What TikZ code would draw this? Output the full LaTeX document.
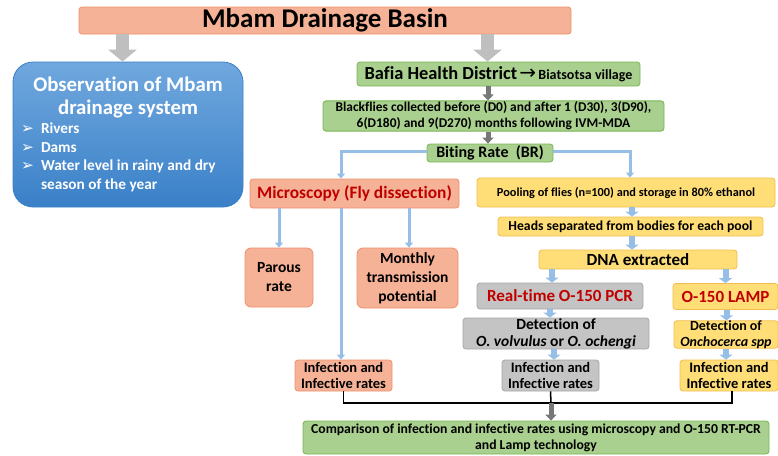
\documentclass[tikz,border=0pt]{standalone}
\usepackage{fontspec}
\setmainfont{Carlito}[Ligatures=NoCommon]
\newfontfamily\dingfont{DejaVu Sans}
\usetikzlibrary{positioning,arrows.meta,calc}
\definecolor{salmonfill}{RGB}{246,178,150}
\definecolor{salmonline}{RGB}{236,145,108}
\definecolor{greenfill}{RGB}{169,208,142}
\definecolor{greenline}{RGB}{120,180,85}
\definecolor{yellowfill}{RGB}{255,222,120}
\definecolor{yellowline}{RGB}{240,190,80}
\definecolor{grayfill}{RGB}{196,196,196}
\definecolor{grayline}{RGB}{165,165,165}
\definecolor{bluetop}{RGB}{112,168,222}
\definecolor{bluebottom}{RGB}{58,128,200}
\definecolor{flowblue}{RGB}{150,190,230}
\definecolor{textred}{RGB}{192,0,0}
\definecolor{bigarrowgray}{RGB}{191,191,191}
\definecolor{darkarrowgray}{RGB}{120,120,120}

\begin{document}
\begin{tikzpicture}[x=1pt, y=-1pt,
    box/.style={rectangle, rounded corners=3pt, draw, line width=0.8pt, align=center, inner sep=1pt},
    salmon/.style={fill=salmonfill, draw=salmonline},
    green/.style={fill=greenfill, draw=greenline},
    yellow/.style={fill=yellowfill, draw=yellowline},
    grey/.style={fill=grayfill, draw=grayline},
    bigarrow/.style={line width=13pt, draw=bigarrowgray, -{Triangle[width=28pt,length=12pt]}},
    darkarrow/.style={line width=5pt, draw=darkarrowgray, -{Triangle[width=11pt,length=6pt]}},
    blueline/.style={line width=3pt, draw=flowblue, -{Triangle[width=8pt,length=5pt]}},
    bluestep/.style={line width=6pt, draw=flowblue, -{Triangle[width=13pt,length=5pt]}},
    joinline/.style={line width=1.5pt, draw=black}
  ]
  \useasboundingbox (0,0) rectangle (778,455);

  % top
  \node[box, salmon, minimum width=492pt, minimum height=27pt,
        font=\bfseries\fontsize{27}{30}\selectfont] (title) at (325,20.5) {Mbam Drainage Basin};

  \node[rectangle, rounded corners=20pt, draw=bluebottom, line width=0.8pt,
        top color=bluetop, bottom color=bluebottom, text=white,
        minimum width=230pt, minimum height=145pt, inner sep=0pt] (obs) at (128,134.5)
    {\parbox{214pt}{\centering\bfseries\fontsize{20.8}{23}\selectfont Observation of Mbam\\ drainage system\par
      \raggedright\fontsize{15.3}{18.7}\selectfont
      \makebox[20pt][l]{\dingfont\mdseries ➢}Rivers\\
      \makebox[20pt][l]{\dingfont\mdseries ➢}Dams\\
      \makebox[20pt][l]{\dingfont\mdseries ➢}Water level in rainy and dry\\
      \hspace*{20pt}season of the year}};

  \node[box, green, minimum width=283pt, minimum height=24pt] (bafia) at (498.5,74)
    {\bfseries{\fontsize{18.4}{21}\selectfont Bafia Health District}
     {\dingfont\mdseries\fontsize{20}{20}\selectfont →} {\fontsize{14}{16}\selectfont Biatsotsa village}};
  \node[box, green, minimum width=341pt, minimum height=30pt,
        font=\bfseries\fontsize{13.4}{16}\selectfont] (black) at (493.5,116)
    {Blackflies collected before (D0) and after 1 (D30), 3(D90),\\ 6(D180) and 9(D270) months following IVM-MDA};
  \node[box, green, minimum width=126pt, minimum height=18pt,
        font=\bfseries\fontsize{16}{18}\selectfont] (br) at (490,153) {Biting Rate\ \ (BR)};

  % microscopy branch
  \node[box, salmon, minimum width=209pt, minimum height=29pt, text=textred,
        font=\bfseries\fontsize{17.4}{20}\selectfont] (micro) at (354.5,193.5) {Microscopy (Fly dissection)};
  \node[box, salmon, rounded corners=6pt, minimum width=68pt, minimum height=59pt,
        font=\bfseries\fontsize{15.5}{19}\selectfont] (parous) at (279,277.5) {Parous\\ rate};
  \node[box, salmon, rounded corners=6pt, minimum width=101pt, minimum height=60pt,
        font=\bfseries\fontsize{15.5}{19}\selectfont] (monthly) at (407.5,278) {Monthly\\ transmission\\ potential};
  \node[box, salmon, minimum width=97pt, minimum height=31pt,
        font=\bfseries\fontsize{14.5}{16.5}\selectfont] (infL) at (343.5,375.5) {Infection and\\ Infective rates};

  % molecular branch
  \node[box, yellow, minimum width=298pt, minimum height=29pt,
        font=\bfseries\fontsize{12.3}{15}\selectfont] (pool) at (626,192.5) {Pooling of flies (n=100) and storage in 80\% ethanol};
  \node[box, yellow, minimum width=265pt, minimum height=19pt,
        font=\bfseries\fontsize{13.7}{15}\selectfont] (heads) at (630.5,226.5) {Heads separated from bodies for each pool};
  \node[box, yellow, minimum width=198pt, minimum height=19pt,
        font=\bfseries\fontsize{17}{18}\selectfont] (dna) at (638,259.5) {DNA extracted};
  \node[box, grey, minimum width=166pt, minimum height=26pt, text=textred,
        font=\bfseries\fontsize{17}{19}\selectfont] (pcr) at (560,296) {Real-time O-150 PCR};
  \node[box, yellow, minimum width=105pt, minimum height=26pt, text=textred,
        font=\bfseries\fontsize{17}{19}\selectfont] (lamp) at (725.5,296.5) {O-150 LAMP};
  \node[box, grey, minimum width=186pt, minimum height=31pt, inner sep=0pt,
        font=\bfseries\fontsize{15.5}{17}\selectfont] (detG) at (556,333.5) {Detection of\\ \textit{O. volvulus} or \textit{O. ochengi}};
  \node[box, yellow, minimum width=104pt, minimum height=25pt, inner sep=0pt,
        font=\bfseries\fontsize{14}{15.5}\selectfont] (detY) at (726,334.5) {Detection of\\ \textit{Onchocerca spp}};
  \node[box, grey, minimum width=97pt, minimum height=31pt,
        font=\bfseries\fontsize{14.5}{16.5}\selectfont] (infG) at (550.5,375.5) {Infection and\\ Infective rates};
  \node[box, yellow, minimum width=98pt, minimum height=31pt,
        font=\bfseries\fontsize{14.5}{16.5}\selectfont] (infY) at (729,375.5) {Infection and\\ Infective rates};

  \node[box, green, minimum width=466pt, minimum height=33pt,
        font=\bfseries\fontsize{13.7}{16}\selectfont] (comp) at (536,437.5)
    {Comparison of infection and infective rates using microscopy and O-150 RT-PCR\\ and Lamp technology};

  \coordinate (join) at (551,403);

  % connectors
  \draw[bigarrow] ([xshift=-5.5pt]obs.north |- title.south) -- ([xshift=-5.5pt]obs.north);
  \draw[bigarrow] ([xshift=-11pt]bafia.north |- title.south) -- ([xshift=-11pt]bafia.north);
  \draw[darkarrow] ([xshift=-10.5pt]bafia.south) -- ([xshift=-10.5pt]bafia.south |- black.north);
  \draw[darkarrow] ([xshift=-2pt]black.south -| br) -- ([xshift=-2pt]br.north);

  \draw[blueline] ([yshift=2pt]br.west) -| ([xshift=-13.5pt]micro.north);
  \draw[blueline] ([yshift=2pt]br.east) -| ([xshift=4pt]pool.north);
  \draw[blueline] (micro.south -| parous) -- (parous.north);
  \draw[blueline] ([xshift=1.5pt]micro.south -| monthly) -- ([xshift=1.5pt]monthly.north);
  \draw[blueline] ([xshift=-13.5pt]micro.south) -- ([xshift=-13.5pt]micro.south |- infL.north);

  \draw[bluestep] ([xshift=1.5pt]pool.south -| heads) -- ([xshift=1.5pt]heads.north);
  \draw[bluestep] ([xshift=1.5pt]heads.south) -- ([xshift=1.5pt]heads.south |- dna.north);
  \draw[bluestep] ([xshift=-8pt]pcr.north |- dna.south) -- ([xshift=-8pt]pcr.north);
  \draw[bluestep] (dna.south -| lamp) -- (lamp.north);
  \draw[bluestep] ([xshift=-10pt]pcr.south) -- ([xshift=-10pt]pcr.south |- detG.north);
  \draw[bluestep] ([xshift=1pt]lamp.south) -- ([xshift=1pt]lamp.south |- detY.north);
  \draw[bluestep] ([xshift=-2pt]detG.south) -- ([xshift=-2pt]detG.south |- infG.north);
  \draw[bluestep] (detY.south -| detY) -- (detY.south |- infY.north);

  \draw[joinline] (infL.south) |- ([xshift=3pt]infY.south |- join) -- ([xshift=3pt]infY.south);
  \draw[joinline] (infG.south) -- (join);
  \draw[darkarrow] (join) -- (join |- comp.north);
\end{tikzpicture}
\end{document}
